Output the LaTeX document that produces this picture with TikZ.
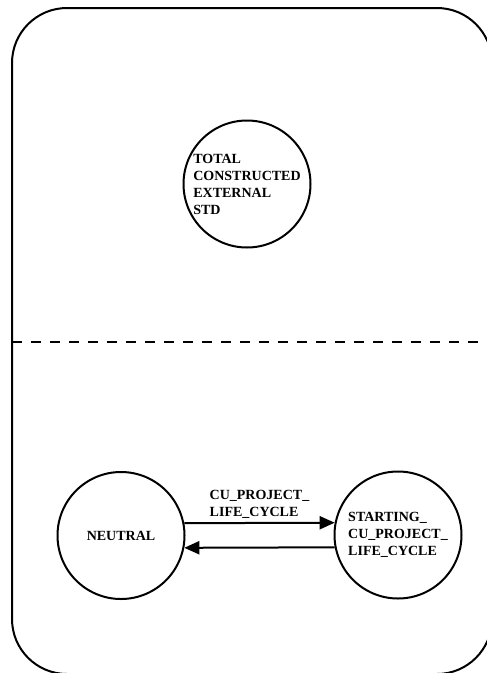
\documentclass[tikz,border=0pt]{standalone}
\usepackage{fontspec}
\setmainfont{Liberation Serif}
\usepackage{tikz}
\usetikzlibrary{arrows.meta}

\begin{document}
\begin{tikzpicture}[
    x=1pt, y=-1pt,
    state/.style={draw, line width=2pt, circle, minimum size=127pt, inner sep=0pt,
                  align=left, font=\fontsize{14}{17}\selectfont\bfseries},
    edge/.style={-{Triangle[length=15pt, width=13pt]}, line width=2pt},
    frame/.style={draw, line width=2pt, rounded corners=55pt},
  ]
    \useasboundingbox (0,0) rectangle (487,673);
    \clip (0,0) rectangle (487,673);

    \draw[frame] (12,8) rectangle (492,674);
    \draw[line width=2pt, dash pattern=on 10pt off 9pt] (12,342) -- (487,342);

    \node[state] (T) at (247,184) {TOTAL\\CONSTRUCTED\\EXTERNAL\\STD};
    \node[state] (N) at (121,535.5) {NEUTRAL};
    \node[state] (S) at (398,535) {STARTING\_\\CU\_PROJECT\_\\LIFE\_CYCLE};

    \draw[edge] (N.11) -- node[above, align=left, inner sep=4pt,
      font=\fontsize{14}{17}\selectfont\bfseries] {CU\_PROJECT\_\\LIFE\_CYCLE} (S.169);
    \draw[edge] (S.-169) -- (N.-11);
\end{tikzpicture}
\end{document}
